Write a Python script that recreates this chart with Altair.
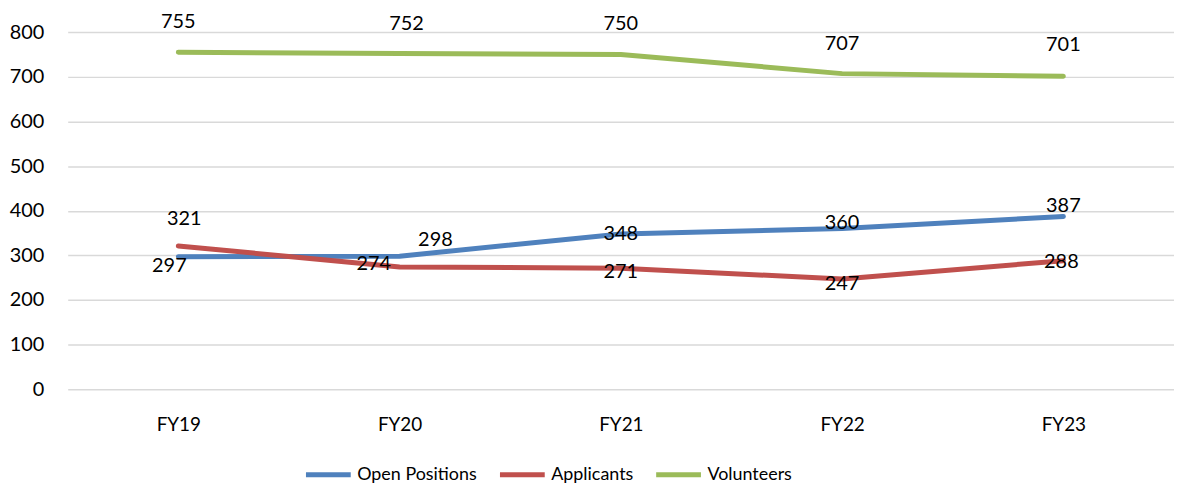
import altair as alt
import pandas as pd

years = ["FY19", "FY20", "FY21", "FY22", "FY23"]
series_names = ["Open Positions", "Applicants", "Volunteers"]
open_positions = [297, 298, 348, 360, 387]
applicants = [321, 274, 271, 247, 288]
volunteers = [755, 752, 750, 707, 701]
colors = ["#4F81BD", "#C0504D", "#9BBB59"]

# label offsets (pixels) per series, per year
label_dx = [[-9, 36, 0, 0, 0], [6, -26, 0, 0, -2], [0, 7, 0, 0, 0]]
label_dy = [[9, -16, 0, -6, -11], [-27, -3, 4, 5, 1], [-30, -30, -31, -30, -31]]

FONT = "Lato"
FS = 20

rows = []
for s, vals in zip(series_names, [open_positions, applicants, volunteers]):
    for i, (y, v) in enumerate(zip(years, vals)):
        rows.append({"year": y, "series": s, "value": v, "idx": i})
df = pd.DataFrame(rows)

x_enc = alt.X("year:N", sort=years, scale=alt.Scale(type="point", padding=0.5),
              axis=alt.Axis(title=None, domain=False, ticks=False, labelPadding=26,
                            labelFontSize=19, labelFont=FONT, labelColor="#000000",
                            labelAngle=0, grid=False))
y_enc = alt.Y("value:Q", scale=alt.Scale(domain=[0, 800], nice=False),
              axis=alt.Axis(title=None, domain=False, ticks=False,
                            values=list(range(0, 801, 100)), labelPadding=24,
                            labelFontSize=FS, labelFont=FONT, labelColor="#000000",
                            gridColor="#D9D9D9", gridWidth=1.5))

color_enc = alt.Color("series:N", scale=alt.Scale(domain=series_names, range=colors),
                      legend=alt.Legend(title=None, orient="none", direction="horizontal",
                                        legendX=237, legendY=420, symbolType="stroke",
                                        symbolSize=2025, symbolStrokeWidth=5,
                                        labelFontSize=18, labelFont=FONT,
                                        labelColor="#000000", labelOffset=4,
                                        columnPadding=12))

lines = alt.Chart(df).mark_line(strokeWidth=5, strokeCap="round", strokeJoin="round").encode(
    x=x_enc, y=y_enc, color=color_enc, detail="series:N")

layers = [lines]
for si, s in enumerate(series_names):
    for i in range(len(years)):
        t = alt.Chart(df).transform_filter(
            (alt.datum.series == s) & (alt.datum.idx == i)
        ).mark_text(font=FONT, fontSize=FS, color="#000000", baseline="middle",
                    align="center", dx=label_dx[si][i], dy=label_dy[si][i]).encode(
            x=alt.X("year:N", sort=years, scale=alt.Scale(type="point", padding=0.5)),
            y=alt.Y("value:Q"),
            text="value:Q")
        layers.append(t)

chart = alt.layer(*layers).properties(
    width=1112, height=359,
    autosize=alt.AutoSizeParams(type="none"),
    padding={"left": 60, "top": 23, "right": 0, "bottom": 96},
).configure_view(stroke=None)

chart.save("out.html", embed_options={"renderer": "svg", "actions": False})
